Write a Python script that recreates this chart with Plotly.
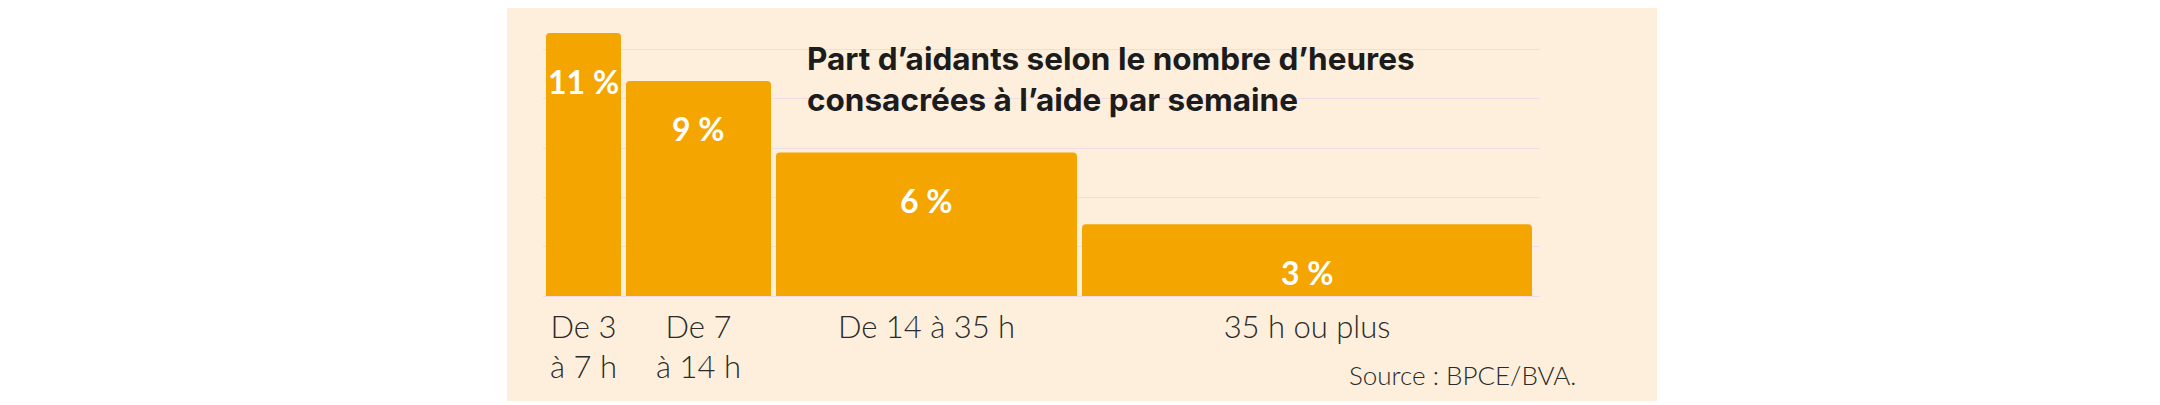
import plotly.graph_objects as go

# ---- data ----
categories = ["De 3<br>à 7 h", "De 7<br>à 14 h", "De 14 à 35 h", "35 h ou plus"]
values = [11, 9, 6, 3]
value_labels = ["11 %", "9 %", "6 %", "3 %"]
title_text = "Part d’aidants selon le nombre d’heures<br>consacrées à l’aide par semaine"
source_text = "Source : BPCE/BVA."

# ---- layout constants (pixel-based horizontal layout) ----
OFF = 8  # page body margin
W, H = 2160 - 2 * OFF, 405 - OFF
bar_px_widths = [75, 145, 301, 450]
gap_px = 5
start_px = 3
plot_left, plot_right = 543 - OFF, 1540 - OFF
plot_top, plot_bottom = 20 - OFF, 296 - OFF
px_per_unit = 23.9
grid_step = 2.063

plot_w = plot_right - plot_left
plot_h = plot_bottom - plot_top
y_max = plot_h / px_per_unit

centers = []
pos = start_px
for w in bar_px_widths:
    centers.append(pos + w / 2)
    pos += w + gap_px

ORANGE = "#F5A500"
BEIGE = "#FDEFDC"
GRID = "#F0DCE6"


def px_x(p):
    return (p - OFF - plot_left) / plot_w


def px_y(p):
    return (plot_bottom - (p - OFF)) / plot_h


fig = go.Figure()
fig.add_trace(go.Bar(
    x=centers, y=values, width=bar_px_widths,
    marker=dict(color=ORANGE, line=dict(width=0)),
    hoverinfo="skip",
))

# value labels
for c, v, t in zip(centers, values, value_labels):
    fig.add_annotation(x=c, y=v, text="<b>%s</b>" % t, showarrow=False,
                       xref="x", yref="y", yanchor="middle", yshift=-48,
                       font=dict(family="Lato", size=32, color="white", weight=900))

# title
fig.add_annotation(x=px_x(805), y=px_y(37),
                   xref="paper", yref="paper", xanchor="left", yanchor="top",
                   text="<b>%s</b>" % title_text, align="left", showarrow=False,
                   font=dict(family="Inter", size=31.5, color="#1C1C1C", weight=900))

# source
fig.add_annotation(x=px_x(1578), y=px_y(375),
                   xref="paper", yref="paper", xanchor="right", yanchor="middle",
                   text=source_text, showarrow=False,
                   font=dict(family="Lato", size=26, color="#2A2A2A", weight=300))

# beige panel
fig.add_shape(type="rect", xref="paper", yref="paper", layer="below",
              x0=px_x(507), x1=px_x(1657),
              y0=px_y(401), y1=px_y(4),
              fillcolor=BEIGE, line=dict(width=0))

fig.update_layout(
    width=W, height=H, autosize=False,
    margin=dict(l=plot_left, r=W - plot_right, t=plot_top, b=H - plot_bottom, pad=0),
    paper_bgcolor="white", plot_bgcolor="rgba(0,0,0,0)",
    showlegend=False, barcornerradius=4,
)
fig.update_xaxes(range=[0, plot_w], tickvals=centers, ticktext=categories,
                 showgrid=False, zeroline=False, showline=False, ticks="",
                 ticklabelstandoff=10,
                 tickfont=dict(family="Lato", size=31, color="#2A2A2A", weight=300),
                 fixedrange=True)
fig.update_yaxes(range=[0, y_max], tick0=0, dtick=grid_step, showticklabels=False,
                 showgrid=True, gridcolor=GRID, gridwidth=1,
                 zeroline=True, zerolinecolor=GRID, zerolinewidth=1,
                 showline=False, ticks="", fixedrange=True)

fig.write_html("out.html")
